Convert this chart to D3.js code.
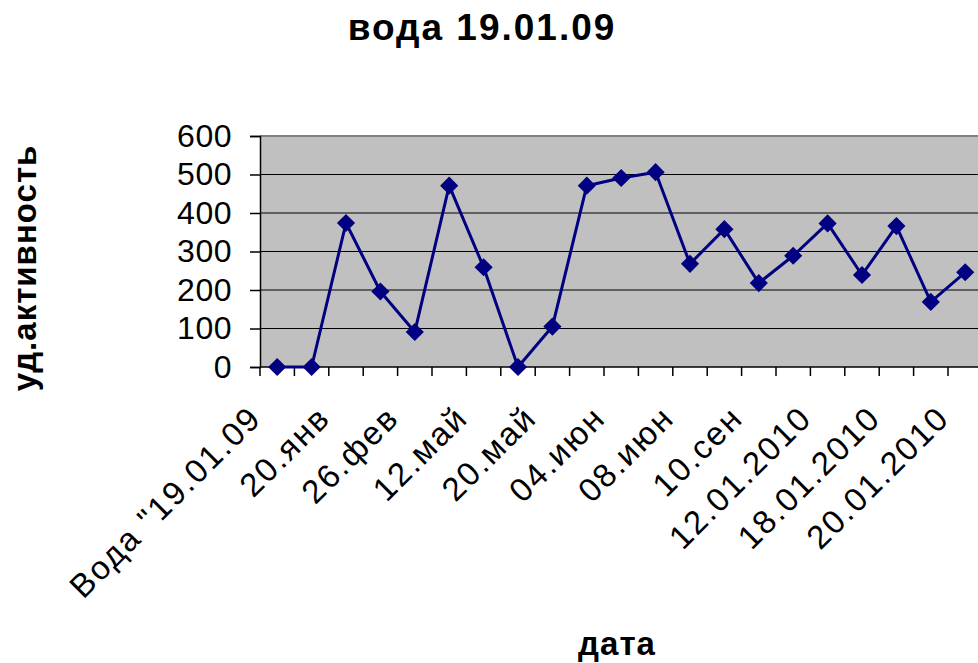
<!DOCTYPE html>
<html>
<head>
<meta charset="utf-8">
<script src="https://cdn.jsdelivr.net/npm/d3@7"></script>
<style>
  body { margin: 0; background: #fff; }
  svg { display: block; font-family: Arial, "Liberation Sans", sans-serif; }
</style>
</head>
<body>
<div id="chart"></div>
<script>
// data
var labels = ["Вода \"19.01.09", "", "20.янв", "", "26.фев", "", "12.май", "", "20.май", "",
              "04.июн", "", "08.июн", "", "10.сен", "", "12.01.2010", "", "18.01.2010", "", "20.01.2010"];
var values = [0, 0, 374, 196, 91, 471, 259, 0, 105, 471, 491, 506, 268, 358, 218, 289, 373, 239, 366, 169, 246];
var yTicks = [0, 100, 200, 300, 400, 500, 600];

var width = 978, height = 663;
var plot = { left: 260, top: 136, bottom: 367, step: 34.4 };

var svg = d3.select("#chart").append("svg")
  .attr("width", width)
  .attr("height", height);

var x = d3.scaleBand()
  .domain(d3.range(values.length))
  .range([plot.left, plot.left + values.length * plot.step]);

var y = d3.scaleLinear().domain([0, 600]).range([plot.bottom, plot.top]);

// plot area
svg.append("rect")
  .attr("x", plot.left)
  .attr("y", plot.top)
  .attr("width", x.range()[1] - plot.left)
  .attr("height", plot.bottom - plot.top)
  .attr("fill", "#c0c0c0");

// gridlines
svg.selectAll(".grid")
  .data(yTicks.filter(function(d) { return d > 0 && d < 600; }))
  .enter().append("line")
  .attr("x1", plot.left).attr("x2", x.range()[1])
  .attr("y1", function(d) { return y(d); })
  .attr("y2", function(d) { return y(d); })
  .attr("stroke", "#000").attr("stroke-width", 1.2);

svg.append("line")
  .attr("x1", plot.left).attr("x2", x.range()[1])
  .attr("y1", y(600)).attr("y2", y(600))
  .attr("stroke", "#808080").attr("stroke-width", 2);

// y axis
var yAxis = d3.axisLeft(y).tickValues(yTicks).tickSize(10).tickPadding(18);
var gy = svg.append("g")
  .attr("transform", "translate(" + plot.left + ",0)")
  .call(yAxis);
gy.select(".domain").attr("stroke", "#000").attr("stroke-width", 1.5);
gy.selectAll(".tick line").attr("stroke", "#000").attr("stroke-width", 1.5);
gy.selectAll("text").attr("font-size", "32px").attr("fill", "#000")
  .attr("letter-spacing", "0.5px")
  .attr("font-family", "Arial, 'Liberation Sans', sans-serif");

// x axis
svg.append("line")
  .attr("x1", plot.left).attr("x2", x.range()[1])
  .attr("y1", plot.bottom).attr("y2", plot.bottom)
  .attr("stroke", "#000").attr("stroke-width", 1.5);

svg.selectAll(".xtick")
  .data(d3.range(values.length + 1))
  .enter().append("line")
  .attr("x1", function(i) { return plot.left + i * x.step(); })
  .attr("x2", function(i) { return plot.left + i * x.step(); })
  .attr("y1", plot.bottom).attr("y2", plot.bottom + 9)
  .attr("stroke", "#000").attr("stroke-width", 1.5);

svg.selectAll(".xlabel")
  .data(labels)
  .enter().append("text")
  .attr("transform", function(d, i) {
    return "translate(" + (x(i) + x.bandwidth() / 2 - 14) + ",420) rotate(-45)";
  })
  .attr("text-anchor", "end")
  .attr("font-size", "33px")
  .attr("letter-spacing", "2px")
  .text(function(d) { return d; });

// series
var line = d3.line()
  .x(function(d, i) { return x(i) + x.bandwidth() / 2; })
  .y(function(d) { return y(d); });

svg.append("path")
  .datum(values)
  .attr("d", line)
  .attr("fill", "none")
  .attr("stroke", "#000080")
  .attr("stroke-width", 3)
  .attr("stroke-linejoin", "round");

svg.selectAll(".marker")
  .data(values)
  .enter().append("path")
  .attr("d", d3.symbol().type(d3.symbolSquare).size(165))
  .attr("transform", function(d, i) {
    return "translate(" + (x(i) + x.bandwidth() / 2) + "," + y(d) + ") rotate(45)";
  })
  .attr("fill", "#000080");

// titles
svg.append("text")
  .attr("x", 482).attr("y", 40)
  .attr("text-anchor", "middle")
  .attr("font-size", "37px").attr("font-weight", "bold")
  .attr("letter-spacing", "2px")
  .text("вода 19.01.09");

svg.append("text")
  .attr("transform", "translate(36,268) rotate(-90)")
  .attr("text-anchor", "middle")
  .attr("font-size", "33px").attr("font-weight", "bold")
  .attr("letter-spacing", "1px")
  .text("уд.активность");

svg.append("text")
  .attr("x", 617).attr("y", 655)
  .attr("text-anchor", "middle")
  .attr("font-size", "33px").attr("font-weight", "bold")
  .attr("letter-spacing", "1px")
  .text("дата");
</script>
</body>
</html>
